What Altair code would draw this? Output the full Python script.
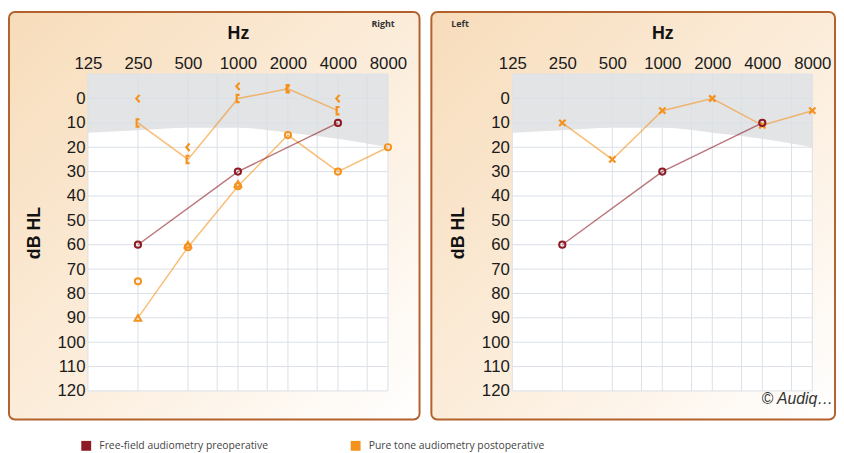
import altair as alt
import pandas as pd

# ---------------- data ----------------
FREQ_TICKS = [125, 250, 500, 1000, 2000, 4000, 8000]
GRID_FREQS = [125, 250, 500, 750, 1000, 1500, 2000, 3000, 4000, 6000, 8000]
DB_TICKS = [0, 10, 20, 30, 40, 50, 60, 70, 80, 90, 100, 110, 120]
GRID_DB = [-10, 0, 10, 20, 30, 40, 50, 60, 70, 80, 90, 100, 110, 120]

normal_freq = [125, 250, 500, 1000, 2000, 4000, 8000]
normal_db = [14, 13, 12, 12, 14, 16.5, 20]

SERIES = ["Free-field audiometry preoperative", "Pure tone audiometry postoperative"]
COLORS = ["#8E1B24", "#F5921E"]

# Right ear (left panel)
ff_freq = [250, 1000, 4000]
right_ff_db = [60, 30, 10]
right_air_line_freq = [250, 500, 1000, 2000, 4000, 8000]
right_air_line_db = [90, 61, 36, 15, 30, 20]
right_circle_freq = [250, 500, 1000, 2000, 4000, 8000]
right_circle_db = [75, 61, 36, 15, 30, 20]
right_triangle_freq = [250, 500, 1000]
right_triangle_db = [90, 60, 35]
bone_freq = [250, 500, 1000, 2000, 4000]
right_bone_masked_db = [10, 25, 0, -4, 5]
right_bone_unmasked_db = [0, 20, -5, -4, 0]

# Left ear (right panel)
left_ff_db = [60, 30, 10]
left_air_freq = [250, 500, 1000, 2000, 4000, 8000]
left_air_db = [10, 25, 5, 0, 11, 5]

# ---------------- helpers ----------------
W, H = 304, 321
FONT = "Liberation Sans"

def df(freqs, dbs, series):
    return pd.DataFrame({"freq": freqs, "db": dbs, "series": [series] * len(freqs)})

xs = alt.Scale(type="log", domain=[125, 8000], nice=False)
ys = alt.Scale(domain=[-10, 120], reverse=True, nice=False, zero=False)

x_axis = alt.Axis(orient="top", values=FREQ_TICKS, format="d", title="Hz", grid=False,
                  ticks=False, domain=False, labelFlush=False, labelOverlap=False,
                  labelFont=FONT, labelFontSize=17, labelColor="#1a1a1a", labelPadding=2,
                  titleFont=FONT, titleFontSize=18, titleFontWeight="bold", titleColor="#111",
                  titlePadding=12, zindex=1)
y_axis = alt.Axis(values=DB_TICKS, title="dB HL", grid=False, ticks=False, domain=False,
                  labelFont=FONT, labelFontSize=17, labelColor="#1a1a1a", labelPadding=3,
                  labelFlush=False, labelOverlap=False,
                  titleFont=FONT, titleFontSize=18, titleFontWeight="bold", titleColor="#111",
                  titlePadding=14, zindex=1)

legend = alt.Legend(orient="none", legendX=-7, legendY=371, direction="horizontal",
                    title=None, symbolType="square", symbolSize=16, symbolStrokeWidth=6,
                    symbolOpacity=1, labelFont="Open Sans", labelFontSize=10.5,
                    labelColor="#444", labelOffset=8, columnPadding=74, labelLimit=400)
color = alt.Color("series:N", scale=alt.Scale(domain=SERIES, range=COLORS), legend=legend)

X = alt.X("freq:Q", scale=xs, axis=x_axis)
Y = alt.Y("db:Q", scale=ys, axis=y_axis)

one = pd.DataFrame({"a": [0]})

gradient = alt.LinearGradient(
    gradient="linear",
    stops=[alt.GradientStop(offset=0, color="#F7DCBA"),
           alt.GradientStop(offset=0.55, color="#FCEEDD"),
           alt.GradientStop(offset=1, color="#FFFFFF")],
    x1=0, y1=0, x2=1, y2=1)

path_bracket = "M 0.45 -1 L -0.35 -1 L -0.35 1 L 0.45 1"
path_less = "M 0.45 -1 L -0.45 0 L 0.45 1"
path_x = "M -1 -1 L 1 1 M -1 1 L 1 -1"


def base_layers(bx1, bx2, corner_text, ctext_x, copyright=False):
    layers = []
    layers.append(alt.Chart(one).mark_rect(cornerRadius=6, fill=gradient, stroke="#B3622E",
                                           strokeWidth=2)
                  .encode(x=alt.value(bx1), x2=alt.value(bx2), y=alt.value(-63), y2=alt.value(350)))
    layers.append(alt.Chart(one).mark_rect(fill="white")
                  .encode(x=alt.value(0), x2=alt.value(W), y=alt.value(0), y2=alt.value(H)))
    layers.append(alt.Chart(pd.DataFrame({"freq": normal_freq, "db": normal_db}))
                  .mark_area(color="#E3E4E6", interpolate="monotone")
                  .encode(x=X, y=Y, y2=alt.datum(-10)))
    layers.append(alt.Chart(pd.DataFrame({"freq": GRID_FREQS})).mark_rule(color="#D9DFE7", strokeWidth=1)
                  .encode(x=X, y=alt.value(0), y2=alt.value(H)))
    layers.append(alt.Chart(pd.DataFrame({"db": GRID_DB})).mark_rule(color="#D9DFE7", strokeWidth=1)
                  .encode(y=Y, x=alt.value(0), x2=alt.value(W)))
    layers.append(alt.Chart(one).mark_text(text=corner_text, font="Open Sans", fontWeight="bold",
                                           fontSize=9, color="#333")
                  .encode(x=alt.value(ctext_x), y=alt.value(-51)))
    if copyright:
        layers.append(alt.Chart(one).mark_text(text="© Audiq…", font=FONT, fontStyle="italic",
                                               fontSize=16, align="right", color="#333")
                      .encode(x=alt.value(325), y=alt.value(329)))
    return layers


def line(d):
    return alt.Chart(d).mark_line(strokeWidth=1.5, opacity=0.6).encode(x=X, y=Y, color=color)


def pts(d, shape, size, sw=2.0):
    return alt.Chart(d).mark_point(shape=shape, filled=False, size=size, strokeWidth=sw,
                                   opacity=1).encode(x=X, y=Y, color=color)


# ---------------- left panel (Right ear) ----------------
r_ff = df(ff_freq, right_ff_db, SERIES[0])
r_air_line = df(right_air_line_freq, right_air_line_db, SERIES[1])
r_circ = df(right_circle_freq, right_circle_db, SERIES[1])
r_tri = df(right_triangle_freq, right_triangle_db, SERIES[1])
r_bm = df(bone_freq, right_bone_masked_db, SERIES[1])
r_bu = df(bone_freq, right_bone_unmasked_db, SERIES[1])

left_layers = base_layers(-80, 336, "Right", 299) + [
    line(r_air_line), line(r_bm), line(r_ff),
    pts(r_circ, "circle", 40), pts(r_tri, "triangle-up", 45),
    pts(r_bm, path_bracket, 55, 2.2), pts(r_bu, path_less, 55, 2.2),
    pts(r_ff, "circle", 40),
]
left = alt.layer(*left_layers).properties(width=W, height=H)

# ---------------- right panel (Left ear) ----------------
l_ff = df(ff_freq, left_ff_db, SERIES[0])
l_air = df(left_air_freq, left_air_db, SERIES[1])

right_layers = base_layers(-82, 327, "Left", -53, copyright=True) + [
    line(l_air), line(l_ff),
    pts(l_air, path_x, 40, 2.2), pts(l_ff, "circle", 40),
]
right = alt.layer(*right_layers).properties(width=W, height=H)

chart = (alt.hconcat(left, right, spacing=126, bounds="flush")
         .properties(padding=0)
         .configure_view(strokeWidth=0))

chart.save("out.html", embed_options={"renderer": "svg", "actions": False})
